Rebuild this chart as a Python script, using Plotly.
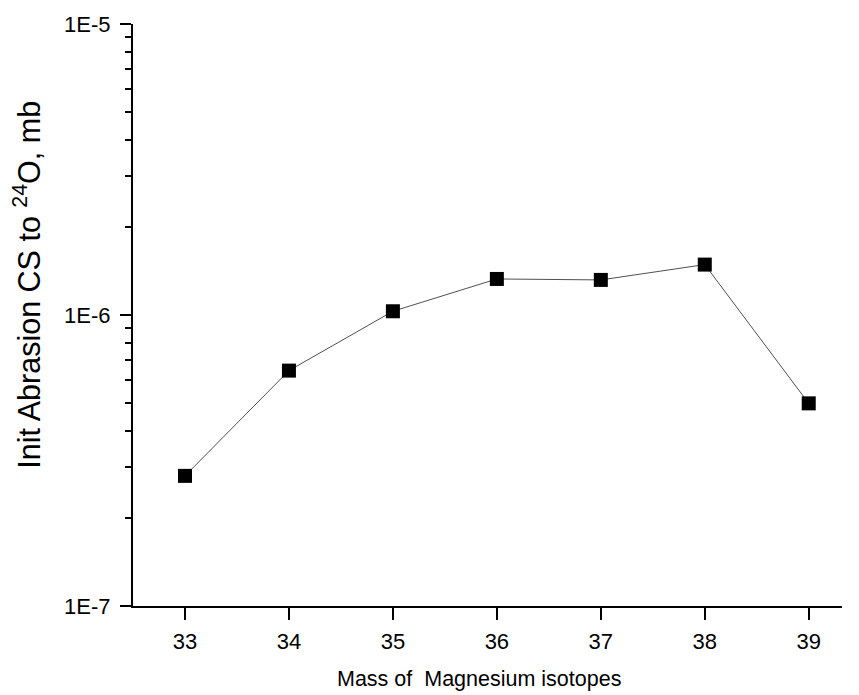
import plotly.graph_objects as go

mass = [33, 34, 35, 36, 37, 38, 39]
cross_section = [2.80e-7, 6.44e-7, 1.03e-6, 1.33e-6, 1.32e-6, 1.49e-6, 4.97e-7]

y_major = [1e-7, 1e-6, 1e-5]
y_major_labels = ["1E-7", "1E-6", "1E-5"]
y_minor = [m * d for d in (1e-7, 1e-6) for m in range(2, 10)]
x_ticks = [33, 34, 35, 36, 37, 38, 39]

x_title = "Mass of  Magnesium isotopes"
y_title = "Init Abrasion CS to <sup>24</sup>O, mb"

fig = go.Figure()
fig.add_trace(go.Scatter(
    x=mass, y=cross_section, mode="lines+markers",
    line=dict(color="#505050", width=1),
    marker=dict(symbol="square", size=14, color="black", line=dict(width=0)),
    showlegend=False,
))

font = "Liberation Sans, Arial, sans-serif"
fig.update_layout(
    width=859, height=695,
    margin=dict(l=133, r=17, t=19, b=89),
    paper_bgcolor="white", plot_bgcolor="white",
    font=dict(family=font, color="black", size=22),
)
fig.update_xaxes(
    range=[32.5, 39.32], tickmode="array", tickvals=x_ticks,
    ticks="outside", ticklen=12, tickwidth=2, tickcolor="black",
    showline=True, linecolor="black", linewidth=2, showgrid=False, zeroline=False,
    tickfont=dict(family=font, size=22, color="black"), ticklabelstandoff=3,
)
fig.update_yaxes(
    type="log", range=[-7, -5], tickmode="array", tickvals=y_major, ticktext=y_major_labels,
    ticks="outside", ticklen=11, tickwidth=2, tickcolor="black",
    minor=dict(tickmode="array", tickvals=y_minor, ticks="outside", ticklen=6, tickwidth=2, tickcolor="black", showgrid=False),
    showline=True, linecolor="black", linewidth=2, showgrid=False, zeroline=False,
    tickfont=dict(family=font, size=22, color="black"), ticklabelstandoff=5,
)
fig.add_annotation(
    text=x_title, xref="paper", yref="paper", x=(479 - 133) / 709, y=(606 - 680) / 587,
    xanchor="center", yanchor="middle", showarrow=False,
    font=dict(family=font, size=21.5, color="black"),
)
fig.add_annotation(
    text=y_title, xref="paper", yref="paper", x=(27 - 133) / 709, y=(606 - 282) / 587,
    xanchor="center", yanchor="middle", showarrow=False, textangle=-90,
    font=dict(family=font, size=30.5, color="black"),
)

fig.write_html("out.html")
